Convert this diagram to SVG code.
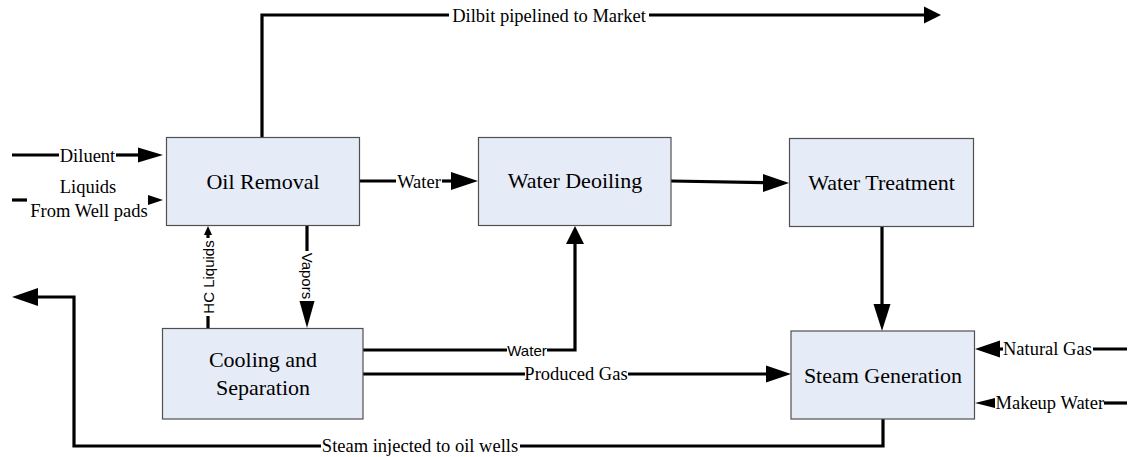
<svg xmlns="http://www.w3.org/2000/svg" width="1129" height="457" viewBox="0 0 1129 457">
<style>
.box{fill:#e6ecf7;stroke:#505050;stroke-width:1.2}
.bt{font-family:'Liberation Serif','Times New Roman',Times,Tinos,'DejaVu Serif',serif;font-size:22px;fill:#000;text-anchor:middle}
.ln{fill:none;stroke:#000;stroke-width:3.2;stroke-linecap:butt;stroke-linejoin:miter}
.ah{fill:#000;stroke:none}
.lb{font-family:'Liberation Serif','Times New Roman',Times,Tinos,'DejaVu Serif',serif;font-size:18.5px;fill:#000}
.ls{font-family:'Liberation Sans',Arial,sans-serif;font-size:15px;fill:#000}
.m{text-anchor:middle}
</style>
<rect width="1129" height="457" fill="#fff"/>
<g id="connectors">
  <line class="ln" x1="12" y1="155" x2="59" y2="155"/>
  <text class="lb m" x="87.5" y="161.5">Diluent</text>
  <line class="ln" x1="116" y1="155" x2="140" y2="155"/>
  <polygon class="ah" points="138,147.5 163,155 138,162.5"/>
  <line class="ln" x1="12" y1="200" x2="27" y2="200"/>
  <text class="lb m" x="88" y="193">Liquids</text>
  <text class="lb m" x="89" y="217">From Well pads</text>
  <polygon class="ah" points="148,195 163,200 148,205"/>
  <line class="ln" x1="359" y1="181" x2="396" y2="181"/>
  <text class="lb m" x="419" y="187.5">Water</text>
  <line class="ln" x1="442" y1="181" x2="453" y2="181"/>
  <polygon class="ah" points="451,172 478,181 451,190"/>
  <line class="ln" x1="671" y1="181" x2="765" y2="182.6"/>
  <polygon class="ah" points="763,174 789,183 763,192"/>
  <polyline class="ln" points="262,137 262,15 449,15"/>
  <text class="lb m" x="549" y="21.5">Dilbit pipelined to Market</text>
  <line class="ln" x1="649" y1="15" x2="926" y2="15"/>
  <polygon class="ah" points="924,6.5 941,15 924,23.5"/>
  <line class="ln" x1="208" y1="328" x2="208" y2="316"/>
  <text class="ls m" transform="translate(213.5,277) rotate(-90)">HC Liquids</text>
  <line class="ln" x1="208" y1="238" x2="208" y2="233"/>
  <polygon class="ah" points="204,235 208,226 212,235"/>
  <line class="ln" x1="307" y1="225" x2="307" y2="251"/>
  <text class="ls m" transform="translate(301.5,276) rotate(90)">Vapors</text>
  <polygon class="ah" points="299.5,301 307,328 314.5,301"/>
  <line class="ln" x1="363" y1="350" x2="507" y2="350"/>
  <text class="ls m" x="527" y="355.5">Water</text>
  <polyline class="ln" points="547,350 575,350 575,242"/>
  <polygon class="ah" points="566,244 575,226 584,244"/>
  <line class="ln" x1="363" y1="374" x2="525" y2="374"/>
  <text class="lb m" x="576" y="380">Produced Gas</text>
  <line class="ln" x1="628" y1="374" x2="768" y2="374"/>
  <polygon class="ah" points="766,365.5 791,374 766,382.5"/>
  <line class="ln" x1="882" y1="227" x2="882" y2="306"/>
  <polygon class="ah" points="873.5,304 882,331 890.5,304"/>
  <polygon class="ah" points="1000,340.5 975,349 1000,357.5"/>
  <line class="ln" x1="999" y1="349" x2="1003" y2="349"/>
  <text class="lb" x="1003" y="355">Natural Gas</text>
  <line class="ln" x1="1093" y1="349" x2="1127" y2="349"/>
  <polygon class="ah" points="995,398 975,403 995,408"/>
  <text class="lb" x="995.5" y="409">Makeup Water</text>
  <line class="ln" x1="1104" y1="403" x2="1127" y2="403"/>
  <polyline class="ln" points="883,419 883,446 520,446"/>
  <text class="lb m" x="420" y="452">Steam injected to oil wells</text>
  <polyline class="ln" points="321,446 74,446 74,297 36,297"/>
  <polygon class="ah" points="38,288 12,297 38,306"/>
</g>
<g id="oil-removal">
  <rect class="box" x="166.5" y="137.5" width="193" height="88"/>
  <text class="bt" x="263" y="188.5">Oil Removal</text>
</g>
<g id="water-deoiling">
  <rect class="box" x="478.5" y="137.5" width="192.5" height="88"/>
  <text class="bt" x="575" y="188">Water Deoiling</text>
</g>
<g id="water-treatment">
  <rect class="box" x="789.5" y="138.5" width="184" height="88"/>
  <text class="bt" x="881.5" y="190">Water Treatment</text>
</g>
<g id="cooling-separation">
  <rect class="box" x="162.5" y="328.5" width="200.5" height="90.5"/>
  <text class="bt" x="263" y="367">Cooling and</text>
  <text class="bt" x="263" y="395">Separation</text>
</g>
<g id="steam-generation">
  <rect class="box" x="791" y="331" width="183.5" height="88"/>
  <text class="bt" x="883" y="383">Steam Generation</text>
</g>
</svg>
